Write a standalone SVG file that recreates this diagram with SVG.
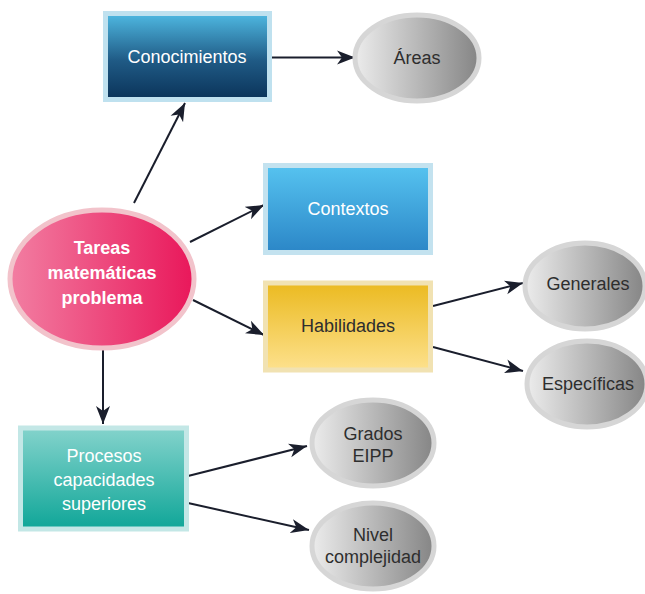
<svg xmlns="http://www.w3.org/2000/svg" width="645" height="594" viewBox="0 0 645 594">
<defs>
<linearGradient id="gCon" x1="0" y1="0" x2="0" y2="1"><stop offset="0" stop-color="#4fb9e2"/><stop offset="0.55" stop-color="#1f5a85"/><stop offset="1" stop-color="#0b3359"/></linearGradient>
<linearGradient id="gCtx" x1="0" y1="0" x2="0" y2="1"><stop offset="0" stop-color="#56c3f0"/><stop offset="1" stop-color="#2b86c7"/></linearGradient>
<linearGradient id="gHab" x1="0" y1="0" x2="0" y2="1"><stop offset="0" stop-color="#ebba20"/><stop offset="1" stop-color="#fde18d"/></linearGradient>
<linearGradient id="gPro" x1="0" y1="0" x2="0" y2="1"><stop offset="0" stop-color="#84d3cc"/><stop offset="1" stop-color="#0fa698"/></linearGradient>
<linearGradient id="gTar" x1="0" y1="0" x2="1" y2="0"><stop offset="0" stop-color="#f27ea2"/><stop offset="1" stop-color="#e9175a"/></linearGradient>
<linearGradient id="gGray" x1="0" y1="0" x2="1" y2="0"><stop offset="0" stop-color="#ececec"/><stop offset="1" stop-color="#858585"/></linearGradient>
<marker id="ah" markerUnits="userSpaceOnUse" markerWidth="20" markerHeight="16" refX="18" refY="8" orient="auto" viewBox="0 0 20 16">
<path d="M0,1 L18,8 L0,15 L5,8 Z" fill="#1a1e2c"/>
</marker>
<style>
.box{stroke-width:5}
.ell{stroke:#d6d6d6;stroke-width:5;fill:url(#gGray)}
.t{font-family:"Liberation Sans","DejaVu Sans",sans-serif;font-size:18px;text-anchor:middle}
.w{fill:#ffffff}
.d{fill:#2e2e2e}
.b{font-weight:bold;font-size:18px}
.c{stroke:#1a1e2c;stroke-width:2;fill:none;marker-end:url(#ah)}
</style>
</defs>
<g id="connectors">
<line class="c" x1="134" y1="203" x2="185" y2="103"/>
<line class="c" x1="272" y1="57.5" x2="355" y2="57.5"/>
<line class="c" x1="190" y1="242" x2="264" y2="205"/>
<line class="c" x1="193" y1="300" x2="264" y2="335"/>
<line class="c" x1="433" y1="306" x2="523" y2="283"/>
<line class="c" x1="433" y1="347" x2="523" y2="371"/>
<line class="c" x1="103" y1="350" x2="103" y2="424"/>
<line class="c" x1="188" y1="476" x2="307" y2="446"/>
<line class="c" x1="188" y1="503" x2="309" y2="530"/>
</g>
<g id="conocimientos">
<rect x="105.5" y="13.5" width="164" height="86" fill="url(#gCon)" stroke="#bfe1ef" class="box"/>
<text class="t w" x="187" y="63">Conocimientos</text>
</g>
<g id="areas">
<ellipse class="ell" cx="417" cy="58" rx="62" ry="43"/>
<text class="t d" x="417" y="64">Áreas</text>
</g>
<g id="tareas">
<ellipse cx="102" cy="279" rx="92" ry="69" fill="url(#gTar)" stroke="#f2c3cb" stroke-width="5"/>
<text class="t w b" x="102" y="254">Tareas</text>
<text class="t w b" x="102" y="279">matemáticas</text>
<text class="t w b" x="102" y="304">problema</text>
</g>
<g id="contextos">
<rect x="265.5" y="165.5" width="165" height="87" fill="url(#gCtx)" stroke="#c3e2ef" class="box"/>
<text class="t w" x="348" y="215">Contextos</text>
</g>
<g id="habilidades">
<rect x="265.5" y="283" width="165" height="87" fill="url(#gHab)" stroke="#f1e2b2" class="box"/>
<text class="t d" x="348" y="332">Habilidades</text>
</g>
<g id="generales">
<ellipse class="ell" cx="585" cy="286" rx="60" ry="43"/>
<text class="t d" x="588" y="290">Generales</text>
</g>
<g id="especificas">
<ellipse class="ell" cx="587" cy="384" rx="60" ry="43"/>
<text class="t d" x="588" y="390">Específicas</text>
</g>
<g id="procesos">
<rect x="20.5" y="428" width="166" height="101" fill="url(#gPro)" stroke="#c3e7e6" class="box"/>
<text class="t w" x="104" y="462">Procesos</text>
<text class="t w" x="104" y="486">capacidades</text>
<text class="t w" x="104" y="510">superiores</text>
</g>
<g id="grados">
<ellipse class="ell" cx="373" cy="443" rx="61" ry="43"/>
<text class="t d" x="373" y="440">Grados</text>
<text class="t d" x="373" y="462">EIPP</text>
</g>
<g id="nivel">
<ellipse class="ell" cx="373" cy="546" rx="61" ry="43"/>
<text class="t d" x="373" y="541">Nivel</text>
<text class="t d" x="373" y="563">complejidad</text>
</g>
</svg>
